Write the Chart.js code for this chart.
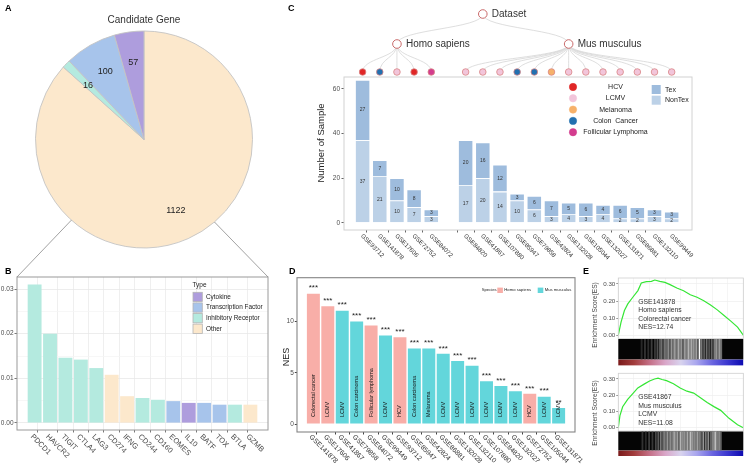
<!DOCTYPE html>
<html><head><meta charset="utf-8"><title>Exhaustion gene chart</title>
<script src="https://cdn.jsdelivr.net/npm/chart.js@4.4.1/dist/chart.umd.min.js"></script>
<style>
html,body{margin:0;padding:0;background:#fff;overflow:hidden}
#wrap{position:relative;width:750px;height:467px;background:#fff}
#wrap canvas{position:absolute;left:0;top:0}
</style></head><body>
<div id="wrap">
<canvas id="cA" width="750" height="467"></canvas>
<canvas id="cB" width="750" height="467"></canvas>
<canvas id="cC" width="750" height="467"></canvas>
<canvas id="cD" width="750" height="467"></canvas>
<canvas id="cE1" width="750" height="467"></canvas>
<canvas id="cE1b" width="750" height="467"></canvas>
<canvas id="cE1s" width="750" height="467"></canvas>
<canvas id="cE2" width="750" height="467"></canvas>
<canvas id="cE2b" width="750" height="467"></canvas>
<canvas id="cE2s" width="750" height="467"></canvas>
</div>
<script>
// ================= DATA =================
// Panel A : candidate gene categories
const pieLabels = ['Other', 'Inhibitory Receptor', 'Transcription Factor', 'Cytokine'];
const pieValues = [1122, 16, 100, 57];

// Panel B : top genes
const geneNames = ['PDCD1','HAVCR2','TIGIT','CTLA4','LAG3','CD274','IFNG','CD244','CD160','EOMES','IL10','BATF','TOX','BTLA','GZMB'];
const geneScores = [0.0310,0.0200,0.0146,0.0142,0.0123,0.0108,0.0060,0.0056,0.0052,0.0049,0.0045,0.0045,0.0041,0.0041,0.0041];
const geneTypes = ['Inhibitory Receptor','Inhibitory Receptor','Inhibitory Receptor','Inhibitory Receptor','Inhibitory Receptor','Other','Other','Inhibitory Receptor','Inhibitory Receptor','Transcription Factor','Cytokine','Transcription Factor','Transcription Factor','Inhibitory Receptor','Other'];
const typeOrder = ['Cytokine','Transcription Factor','Inhibitory Receptor','Other'];

// Panel C : datasets
const cDatasets = ['GSE93712','GSE141878','GSE17606','GSE72752','GSE84072','GSE84820','GSE41867','GSE107880','GSE85947','GSE79858','GSE42824','GSE132028','GSE105044','GSE132027','GSE131871','GSE86881','GSE132110','GSE99449'];
const cSpecies = ['Homo sapiens','Homo sapiens','Homo sapiens','Homo sapiens','Homo sapiens','Mus musculus','Mus musculus','Mus musculus','Mus musculus','Mus musculus','Mus musculus','Mus musculus','Mus musculus','Mus musculus','Mus musculus','Mus musculus','Mus musculus','Mus musculus'];
const cDisease = ['HCV','Colon Cancer','LCMV','HCV','Follicular Lymphoma','LCMV','LCMV','LCMV','Colon Cancer','Colon Cancer','Melanoma','LCMV','LCMV','LCMV','LCMV','LCMV','LCMV','LCMV'];
const cNonTex = [37,21,10,7,3,17,20,14,10,6,3,4,3,4,2,2,3,2];
const cTex = [27,7,10,8,3,20,16,12,3,6,7,5,6,4,6,5,3,3];
const speciesOrder = ['Homo sapiens','Mus musculus'];
const diseaseOrder = ['HCV','LCMV','Melanoma','Colon  Cancer','Follicular Lymphoma'];
const cYTicks = [0,20,40,60];

// Panel D : NES per dataset
const dIds = ['GSE141878','GSE17606','GSE41867','GSE79858','GSE84072','GSE99449','GSE93712','GSE85947','GSE42824','GSE86881','GSE132028','GSE132110','GSE107880','GSE84820','GSE132027','GSE72752','GSE105044','GSE131871'];
const dNES = [12.74,11.5,11.08,10.03,9.64,8.66,8.47,7.39,7.39,6.87,6.15,5.7,4.17,3.71,3.2,2.96,2.67,1.56];
const dSpecies = ['Homo sapiens','Homo sapiens','Mus musculus','Mus musculus','Homo sapiens','Mus musculus','Homo sapiens','Mus musculus','Mus musculus','Mus musculus','Mus musculus','Mus musculus','Mus musculus','Mus musculus','Mus musculus','Homo sapiens','Mus musculus','Mus musculus'];
const dDisease = ['Colorectal cancer','LCMV','LCMV','Colon carcinoma','Follicular lymphoma','LCMV','HCV','Colon carcinoma','Melanoma','LCMV','LCMV','LCMV','LCMV','LCMV','LCMV','HCV','LCMV','LCMV'];
const dSig = ['***','***','***','***','***','***','***','***','***','***','***','***','***','***','***','***','***','**'];

// Panel E : running enrichment scores (rank fraction, ES)
const esRank1 = [0,0.022,0.049,0.076,0.116,0.157,0.184,0.224,0.265,0.292,0.332,0.373,0.414,0.468,0.522,0.576,0.63,0.684,0.738,0.792,0.846,0.9,0.954,1.0];
const esScore1 = [0,0.076,0.144,0.183,0.222,0.261,0.306,0.314,0.315,0.323,0.315,0.309,0.296,0.276,0.26,0.237,0.222,0.202,0.177,0.148,0.115,0.082,0.047,0];
const esRank2 = [0,0.013,0.035,0.075,0.116,0.156,0.21,0.25,0.29,0.318,0.35,0.386,0.441,0.495,0.549,0.603,0.657,0.711,0.765,0.819,0.886,0.954,1.0];
const esScore2 = [0,0.075,0.129,0.175,0.21,0.245,0.27,0.288,0.3,0.305,0.297,0.29,0.271,0.245,0.225,0.213,0.184,0.155,0.13,0.107,0.058,0.019,0];
const esText1 = ['GSE141878','Homo sapiens','Colorectal cancer','NES=12.74'];
const esText2 = ['GSE41867','Mus musculus','LCMV','NES=11.08'];
// barcode hits (rank fraction, grey level)
const bc1Pos = [0.03,0.07,0.11,0.15,0.19,0.22,0.25,0.27,0.29,0.31,0.33,0.35,0.37,0.39,0.41,0.43,0.45,0.47,0.49,0.51,0.53,0.55,0.57,0.59,0.61,0.63,0.65,0.67,0.69,0.724,0.75,0.78,0.81,0.84,0.87,0.89,0.91,0.93,0.95,0.97,0.985];
const bc1Grey = [40,50,45,60,55,80,90,110,70,120,100,140,90,150,120,160,110,170,130,150,100,160,120,180,140,170,150,130,160,250,120,90,110,80,100,70,130,150,120,160,110];
const bc2Pos = [0.04,0.08,0.12,0.16,0.2,0.23,0.26,0.28,0.3,0.32,0.34,0.36,0.38,0.4,0.42,0.44,0.46,0.48,0.5,0.52,0.54,0.56,0.58,0.6,0.62,0.64,0.66,0.68,0.7,0.72,0.74,0.77,0.8,0.83,0.86,0.88,0.9,0.92,0.94,0.96,0.98];
const bc2Grey = [50,40,60,55,70,90,120,80,130,100,150,110,140,120,170,130,160,110,180,140,150,120,170,130,190,150,140,120,160,130,110,150,120,140,100,130,150,190,120,140,100];
const rankColors = ['#7a1a1a','#a23c3c','#c46f86','#d9a6c8','#d8d3ee','#a9a6ee','#6b66e0','#3a36cf','#0d0ab0'];

// ================= STYLE / HELPERS =================
const W = 750, H = 467;
const FAM = "'Liberation Sans', Arial, Helvetica, sans-serif";
const fnt = (s, w) => (w || 'normal') + ' ' + s + 'px ' + FAM;
const typeColors = {'Cytokine':'#AE9DDD','Transcription Factor':'#A7C4EB','Inhibitory Receptor':'#B4EADF','Other':'#FCE8CC'};
const diseaseColors = {'HCV':'#E02626','LCMV':'#F2C5DA','Melanoma':'#F6B16A','Colon Cancer':'#2270B0','Colon  Cancer':'#2270B0','Follicular Lymphoma':'#D33C8E'};
const speciesColors = {'Homo sapiens':'#F8AEA8','Mus musculus':'#63D6DB'};

Chart.defaults.font.family = FAM;
Chart.defaults.color = '#333';
Chart.defaults.animation = false;
Chart.defaults.responsive = false;
Chart.defaults.events = [];
Chart.defaults.plugins.legend.display = false;
Chart.defaults.plugins.tooltip.enabled = false;

function drawText(c, it) {
  c.save();
  c.font = fnt(it.size || 7, it.weight);
  c.fillStyle = it.color || '#333';
  c.textAlign = it.align || 'left';
  c.textBaseline = it.baseline || 'middle';
  c.translate(it.x, it.y);
  if (it.rot) c.rotate(it.rot * Math.PI / 180);
  c.fillText(it.text, 0, 0);
  c.restore();
}
const framePlugin = {id:'frame', afterDatasetsDraw(ch, a, o) {
  if (!o || !o.color) return;
  const r = ch.chartArea, c = ch.ctx;
  c.save(); c.strokeStyle = o.color; c.lineWidth = o.width || 1;
  c.strokeRect(r.left, r.top, r.right - r.left, r.bottom - r.top); c.restore();
}};
const bgPlugin = {id:'bg', beforeDraw(ch, a, o) {
  if (!o || !o.color) return;
  const r = ch.chartArea, c = ch.ctx;
  c.save(); c.fillStyle = o.color; c.fillRect(r.left, r.top, r.right - r.left, r.bottom - r.top); c.restore();
}};
const textPlugin = {id:'texts', afterDraw(ch, a, o) {
  ((o && o.items) || []).forEach(it => drawText(ch.ctx, it));
}};
const xLabelPlugin = {id:'xlab', afterDraw(ch, a, o) {
  if (!o || !o.labels) return;
  const xs = ch.scales.x, bottom = ch.chartArea.bottom;
  o.labels.forEach((t, i) => drawText(ch.ctx, {text:t, x: xs.getPixelForValue(o.pos ? o.pos[i] : i) + (o.dx || 0), y: bottom + (o.dy || 0), size:o.size, color:o.color, rot:45}));
}};
Chart.register(framePlugin, bgPlugin, textPlugin, xLabelPlugin);

function pad(f, yW) { return {left: f.l - (yW || 0), top: f.t, right: W - f.r, bottom: H - f.b}; }
const fit0 = s => { s.height = 0; };

// ================= PANEL A =================
const pieLabelPlugin = {id:'pieLab', afterDatasetsDraw(ch) {
  const meta = ch.getDatasetMeta(0), c = ch.ctx;
  meta.data.forEach((arc, i) => {
    const mid = (arc.startAngle + arc.endAngle) / 2, r = arc.outerRadius * 0.72;
    drawText(c, {text:String(pieValues[i]), x: arc.x + r * Math.cos(mid), y: arc.y + r * Math.sin(mid), size:9, color:'#222', align:'center'});
  });
}};
const chartA = new Chart(document.getElementById('cA'), {
  type:'pie',
  data:{labels:pieLabels, datasets:[{data:pieValues, backgroundColor:pieLabels.map(t => typeColors[t]), borderColor:'#c4c4c4', borderWidth:0.9}]},
  options:{
    radius:108.5,
    layout:{padding:{left:34, top:29.5, right:W - 254, bottom:H - 249.5}},
    plugins:{texts:{items:[
      {text:'Candidate Gene', x:144, y:20, size:10, color:'#333', align:'center'},
      {text:'A', x:5, y:8.5, size:9, weight:'bold', color:'#000'},
      {text:'B', x:5, y:272, size:9, weight:'bold', color:'#000'},
      {text:'C', x:288, y:8.5, size:9, weight:'bold', color:'#000'},
      {text:'D', x:289, y:271.5, size:9, weight:'bold', color:'#000'},
      {text:'E', x:583, y:271.5, size:9, weight:'bold', color:'#000'}
    ]}}
  },
  plugins:[pieLabelPlugin]
});

// ================= PANEL B =================
const isMaj = v => Math.abs(v * 100 - Math.round(v * 100)) < 1e-6;
const bExtra = {id:'bExtra', afterDraw(ch) {
  const c = ch.ctx, ca = ch.chartArea;
  // zoom lines from the pie to panel B
  const arc = chartA.getDatasetMeta(0).data[0];
  const R = arc.outerRadius;
  c.save(); c.strokeStyle = '#8a8a8a'; c.lineWidth = 0.8;
  const a1 = 132 * Math.PI / 180, a2 = 49.5 * Math.PI / 180;
  c.beginPath(); c.moveTo(arc.x + R * Math.cos(a1), arc.y + R * Math.sin(a1)); c.lineTo(ca.left, ca.top); c.stroke();
  c.beginPath(); c.moveTo(arc.x + R * Math.cos(a2), arc.y + R * Math.sin(a2)); c.lineTo(ca.right, ca.top); c.stroke();
  c.restore();
  // legend
  drawText(c, {text:'Type', x:192.5, y:285.5, size:6.5, color:'#222'});
  typeOrder.forEach((t, i) => {
    const y = 292.3 + i * 10.6;
    c.save(); c.fillStyle = typeColors[t]; c.fillRect(193, y, 9.3, 9.3);
    c.strokeStyle = '#b4b4b4'; c.lineWidth = 0.8; c.strokeRect(193, y, 9.3, 9.3); c.restore();
    drawText(c, {text:t, x:206, y:y + 4.8, size:6.4, color:'#222'});
  });
}};
new Chart(document.getElementById('cB'), {
  type:'bar',
  data:{datasets:[{data:geneNames.map((g, i) => ({x:i, y:geneScores[i]})), backgroundColor:geneTypes.map(t => typeColors[t]), borderWidth:0, barPercentage:0.9, categoryPercentage:1}]},
  options:{
    layout:{padding:pad({l:17, t:277, r:268, b:430}, 17)},
    scales:{
      x:{type:'linear', min:-0.6, max:geneNames.length - 0.4, ticks:{display:false, stepSize:1}, grid:{color:'#ebebeb', lineWidth:0.8, tickLength:2.5, tickColor:'#555'}, border:{display:false}, afterFit:fit0},
      y:{min:-0.00157, max:0.0327, ticks:{stepSize:0.005, includeBounds:false, callback:v => isMaj(v) ? v.toFixed(2) : '', font:{size:6.5}, color:'#4d4d4d', padding:1},
         grid:{color:c => (c.tick && isMaj(c.tick.value)) ? '#e9e9e9' : '#f5f5f5', lineWidth:0.8, tickLength:2.5, tickColor:c => (c.tick && isMaj(c.tick.value)) ? '#555' : 'rgba(0,0,0,0)'},
         border:{display:false}, afterFit:s => { s.width = 17; }}
    },
    plugins:{frame:{color:'#9a9a9a', width:1}, xlab:{labels:geneNames, size:7.5, color:'#4d4d4d', dx:-3, dy:5.5}}
  },
  plugins:[bExtra]
});

// ================= PANEL C =================
const cPos = cSpecies.map((s, i) => i + speciesOrder.indexOf(s)); // one empty slot between species
const cExtra = {id:'cExtra', afterDraw(ch) {
  const c = ch.ctx, xs = ch.scales.x;
  // tree
  const yRoot = 14, ySp = 44, yLeaf = 72;
  const leafX = cPos.map(p => xs.getPixelForValue(p));
  const spX = speciesOrder.map(s => { const xsS = leafX.filter((x, i) => cSpecies[i] === s); return (Math.min(...xsS) + Math.max(...xsS)) / 2; });
  const rootX = (spX[0] + spX[1]) / 2;
  const curve = (x0, y0, x1, y1) => { const m = (y0 + y1) / 2; c.beginPath(); c.moveTo(x0, y0); c.bezierCurveTo(x0, m, x1, m, x1, y1); c.stroke(); };
  c.save(); c.strokeStyle = '#d6d6d6'; c.lineWidth = 0.8;
  spX.forEach(x => curve(rootX, yRoot, x, ySp));
  leafX.forEach((x, i) => curve(spX[speciesOrder.indexOf(cSpecies[i])], ySp, x, yLeaf));
  c.restore();
  const node = (x, y, r, fill, stroke, lw) => { c.save(); c.beginPath(); c.arc(x, y, r, 0, Math.PI * 2); c.fillStyle = fill; c.fill(); c.strokeStyle = stroke; c.lineWidth = lw; c.stroke(); c.restore(); };
  node(rootX, yRoot, 4.3, '#fff', '#c96a6a', 1);
  drawText(c, {text:'Dataset', x:rootX + 9, y:yRoot, size:10, color:'#333'});
  spX.forEach((x, k) => { node(x, ySp, 4.3, '#fff', '#c96a6a', 1); drawText(c, {text:speciesOrder[k], x:x + 9, y:ySp, size:10, color:'#333'}); });
  leafX.forEach((x, i) => node(x, yLeaf, 3.3, diseaseColors[cDisease[i]], '#d98585', 0.8));
  // value labels
  [cNonTex, cTex].forEach((vals, d) => {
    ch.getDatasetMeta(d).data.forEach((el, i) => drawText(c, {text:String(vals[i]), x:el.x, y:(el.y + el.base) / 2, size:5, color:'#333', align:'center'}));
  });
  // disease legend
  diseaseOrder.forEach((t, i) => {
    const y = 87 + i * 11.3;
    node(573, y, 3.7, diseaseColors[t], diseaseColors[t], 0.5);
    drawText(c, {text:t, x:615.5, y:y, size:7, color:'#222', align:'center'});
  });
  // Tex / NonTex legend
  [['Tex', '#9EBCDD'], ['NonTex', '#BCD1E7']].forEach(([t, col], i) => {
    const y = 85 + i * 10.7;
    c.save(); c.fillStyle = col; c.fillRect(651.7, y, 9, 9); c.restore();
    drawText(c, {text:t, x:665, y:y + 4.6, size:7, color:'#222'});
  });
  drawText(c, {text:'Number of Sample', x:321, y:143, size:9.5, color:'#222', align:'center', rot:-90});
}};
new Chart(document.getElementById('cC'), {
  type:'bar',
  data:{datasets:[
    {label:'NonTex', data:cNonTex.map((v, i) => ({x:cPos[i], y:v})), backgroundColor:'#BCD1E7', borderColor:'rgba(255,255,255,0.9)', borderWidth:0.8, barPercentage:0.88, categoryPercentage:1},
    {label:'Tex', data:cTex.map((v, i) => ({x:cPos[i], y:v})), backgroundColor:'#9EBCDD', borderColor:'rgba(255,255,255,0.9)', borderWidth:0.8, barPercentage:0.88, categoryPercentage:1}
  ]},
  options:{
    layout:{padding:pad({l:344, t:77, r:692, b:230}, 30)},
    scales:{
      x:{type:'linear', stacked:true, min:-0.55, max:18.65, ticks:{display:false, stepSize:1}, grid:{drawOnChartArea:false, tickLength:2.5, tickColor:c => (c.tick && cPos.includes(c.tick.value)) ? '#666' : 'rgba(0,0,0,0)'}, border:{display:false}, afterFit:fit0},
      y:{stacked:true, min:-3.2, max:65.3, ticks:{stepSize:20, includeBounds:false, font:{size:6.5}, color:'#4d4d4d', padding:1.5}, grid:{drawOnChartArea:false, tickLength:2.5, tickColor:'#666'}, border:{display:false}, afterFit:s => { s.width = 30; }}
    },
    plugins:{frame:{color:'#d2d2d2', width:1}, xlab:{labels:cDatasets, pos:cPos, size:6.2, color:'#333', dx:-1, dy:5}}
  },
  plugins:[cExtra]
});

// ================= PANEL D =================
const dExtra = {id:'dExtra', afterDraw(ch) {
  const c = ch.ctx, ys = ch.scales.y;
  ch.getDatasetMeta(0).data.forEach((el, i) => {
    drawText(c, {text:dSig[i], x:el.x, y:el.y - 3.2, size:8, color:'#222', align:'center', baseline:'alphabetic'});
    drawText(c, {text:dDisease[i], x:el.x, y:ys.getPixelForValue(0) - 7, size:5.5, color:'#111', rot:-90});
  });
  drawText(c, {text:'NES', x:286.5, y:357, size:9, color:'#222', align:'center', rot:-90});
  drawText(c, {text:'Species', x:481.7, y:290.3, size:4.2, color:'#222'});
  speciesOrder.forEach((s, k) => {
    const bx = k === 0 ? 497.3 : 537.7;
    c.save(); c.fillStyle = speciesColors[s]; c.fillRect(bx, 287.6, 5.6, 5.4); c.restore();
    drawText(c, {text:s, x:bx + 7, y:290.3, size:4.2, color:'#222'});
  });
}};
new Chart(document.getElementById('cD'), {
  type:'bar',
  data:{datasets:[{data:dNES.map((v, i) => ({x:i, y:v})), backgroundColor:dSpecies.map(s => speciesColors[s]), borderWidth:0, barPercentage:0.9, categoryPercentage:1}]},
  options:{
    layout:{padding:pad({l:297, t:277.7, r:575, b:432}, 20)},
    scales:{
      x:{type:'linear', min:-0.6, max:dIds.length - 0.4, ticks:{display:false, stepSize:1}, grid:{drawOnChartArea:false, tickLength:2.5, tickColor:'#444'}, border:{display:false}, afterFit:fit0},
      y:{min:-0.78, max:14.3, ticks:{stepSize:5, includeBounds:false, font:{size:6.5}, color:'#4d4d4d', padding:1}, grid:{drawOnChartArea:false, tickLength:2.2, tickColor:'#444'}, border:{display:false}, afterFit:s => { s.width = 20; }}
    },
    plugins:{frame:{color:'#858585', width:1.1}, xlab:{labels:dIds, size:6.8, color:'#333', dx:-3, dy:4}}
  },
  plugins:[dExtra]
});

// ================= PANEL E =================
function makeES(id, f, xs, ys, texts, titleY) {
  return new Chart(document.getElementById(id), {
    type:'line',
    data:{datasets:[{data:xs.map((x, i) => ({x:x, y:ys[i]})), borderColor:'#35e635', borderWidth:1.2, pointRadius:0, tension:0, fill:false}]},
    options:{
      layout:{padding:pad(f, 24)},
      scales:{
        x:{type:'linear', min:0, max:1, ticks:{display:false, stepSize:0.125}, grid:{color:'#f1f1f1', lineWidth:0.7, drawTicks:false}, border:{display:false}, afterFit:fit0},
        y:{min:-0.02, max:0.335, ticks:{stepSize:0.05, includeBounds:false, callback:v => v.toFixed(2), font:{size:6.2}, color:'#4d4d4d', padding:1}, grid:{color:'#eeeeee', lineWidth:0.7, tickLength:2, tickColor:'#666'}, border:{display:false}, afterFit:s => { s.width = 24; }}
      },
      plugins:{frame:{color:'#cfcfcf', width:0.8}, texts:{items:
        texts.map((t, k) => ({text:t, x:f.l + 20, y:f.t + 24 + k * 8.5, size:6.8, color:'#333'})).concat([
        {text:'Enrichment Score(ES)', x:595.5, y:titleY, size:6.6, color:'#444', align:'center', rot:-90}])}}
    }
  });
}
function makeBarcode(id, f, pos, grey) {
  return new Chart(document.getElementById(id), {
    type:'bar',
    data:{datasets:[{data:pos.map(p => ({x:p, y:1})), backgroundColor:grey.map(g => 'rgb(' + g + ',' + g + ',' + g + ')'), borderWidth:0, barThickness:1.2}]},
    options:{
      layout:{padding:pad(f, 0)},
      scales:{x:{type:'linear', min:0, max:1, display:false}, y:{min:0, max:1, display:false}},
      plugins:{bg:{color:'#050505'}}
    }
  });
}
function makeStrip(id, f) {
  return new Chart(document.getElementById(id), {
    type:'bar',
    data:{labels:['rank'], datasets:[{data:[[0, 1]], borderWidth:0, barPercentage:1, categoryPercentage:1,
      backgroundColor:ctx => {
        const ca = ctx.chart.chartArea; if (!ca) return '#999';
        const g = ctx.chart.ctx.createLinearGradient(ca.left, 0, ca.right, 0);
        rankColors.forEach((col, i) => g.addColorStop(i / (rankColors.length - 1), col));
        return g;
      }}]},
    options:{
      indexAxis:'y',
      layout:{padding:pad(f, 0)},
      scales:{x:{type:'linear', min:0, max:1, display:false}, y:{display:false}}
    }
  });
}
const eL = 618.3, eR = 743.3;
makeES('cE1', {l:eL, t:278, r:eR, b:338.5}, esRank1, esScore1, esText1, 315);
makeBarcode('cE1b', {l:eL, t:339, r:eR, b:359.5}, bc1Pos, bc1Grey);
makeStrip('cE1s', {l:eL, t:359.5, r:eR, b:365.5});
makeES('cE2', {l:eL, t:373.3, r:eR, b:431}, esRank2, esScore2, esText2, 413);
makeBarcode('cE2b', {l:eL, t:431.5, r:eR, b:450.5}, bc2Pos, bc2Grey);
makeStrip('cE2s', {l:eL, t:450.5, r:eR, b:456});
</script>
</body></html>
